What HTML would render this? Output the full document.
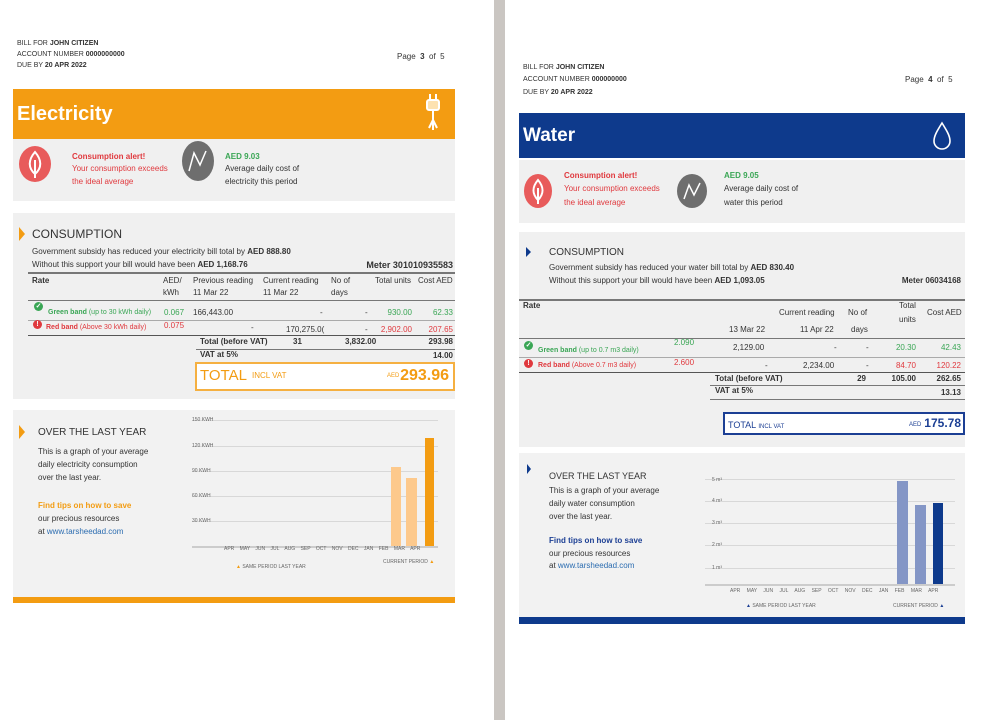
<!DOCTYPE html>
<html><head><meta charset="utf-8"><style>
body{margin:0;width:1000px;height:720px;position:relative;background:#fff;font-family:"Liberation Sans",sans-serif;overflow:hidden;color:#333}
.a{position:absolute}
.t{position:absolute;white-space:nowrap;font-size:8px;line-height:10px;transform:translateY(-5px)}
.r{transform:translate(-100%,-5px)}
.b{font-weight:bold}
.g{color:#3aa655}.rd{color:#e0393e}.o{color:#f39c12}.bl{color:#1c3f94}
.hl{position:absolute;height:1px;background:#777}
.grid{position:absolute;height:1px;background:#d8d8d8}
.sm{font-size:5px;line-height:6px;color:#666}
.ic{position:absolute;width:9px;height:9px;border-radius:50%;color:#fff;font-size:7px;line-height:9px;text-align:center;font-weight:bold}
</style></head><body>
<div class="a" style="left:494px;top:0;width:11px;height:720px;background:#cac6c2"></div>

<!-- LEFT PAGE -->
<div class="t" style="left:17px;top:44px;font-size:7px">BILL FOR <b>JOHN CITIZEN</b></div>
<div class="t" style="left:17px;top:55px;font-size:7px">ACCOUNT NUMBER <b>0000000000</b></div>
<div class="t" style="left:17px;top:66px;font-size:7px">DUE BY <b>20 APR 2022</b></div>
<div class="t" style="left:397px;top:57px;font-size:8px">Page &nbsp;<b>3</b>&nbsp; of &nbsp;5</div>

<div class="a" style="left:13px;top:89px;width:442px;height:50px;background:#f39c12"></div>
<div class="t b" style="left:17px;top:114px;font-size:20px;line-height:24px;transform:translateY(-12px);color:#fff">Electricity</div>
<svg class="a" style="left:424px;top:92px" width="18" height="42"><g stroke="#fff" stroke-width="2" fill="none"><path d="M6 2v6M12 2v6"/><rect x="3" y="8" width="12" height="10" rx="2" fill="#fde2b0"/><path d="M9 18v10M9 28l-4 8M9 28l4 8M9 28v10"/></g></svg>

<div class="a" style="left:13px;top:139px;width:442px;height:62px;background:#f0f0f0"></div>
<div class="a" style="left:19px;top:146px;width:32px;height:36px;border-radius:50%;background:#e85b5b"></div>
<svg class="a" style="left:25px;top:150px" width="20" height="28"><path d="M10 2C3 10 3 18 10 24C17 18 17 10 10 2ZM10 10V28" stroke="#fff" stroke-width="2" fill="none"/></svg>
<div class="t b rd" style="left:72px;top:157px">Consumption alert!</div>
<div class="t rd" style="left:72px;top:169px">Your consumption exceeds</div>
<div class="t rd" style="left:72px;top:182px">the ideal average</div>
<div class="a" style="left:182px;top:141px;width:32px;height:40px;border-radius:50%;background:#6e6e6e"></div>
<svg class="a" style="left:186px;top:147px" width="24" height="28"><path d="M3 24L8 6L14 18L20 4" stroke="#fff" stroke-width="1.5" fill="none"/></svg>
<div class="t b g" style="left:225px;top:157px">AED 9.03</div>
<div class="t" style="left:225px;top:169px">Average daily cost of</div>
<div class="t" style="left:225px;top:182px">electricity this period</div>

<div class="a" style="left:13px;top:213px;width:442px;height:186px;background:#f0f0f0"></div>
<div class="a" style="left:19px;top:227px;width:0;height:0;border-left:6px solid #f39c12;border-top:7px solid transparent;border-bottom:7px solid transparent"></div>
<div class="t" style="left:32px;top:234px;font-size:12px;line-height:14px;transform:translateY(-7px)">CONSUMPTION</div>
<div class="t" style="left:32px;top:252px">Government subsidy has reduced your electricity bill total by <b>AED 888.80</b></div>
<div class="t" style="left:32px;top:265px">Without this support your bill would have been <b>AED 1,168.76</b></div>
<div class="t b r" style="left:453px;top:265px;font-size:9px">Meter 301010935583</div>
<div class="hl" style="left:28px;top:272px;width:427px;height:2px"></div>
<div class="t b" style="left:32px;top:281px">Rate</div>
<div class="t" style="left:163px;top:281px">AED/</div><div class="t" style="left:163px;top:293px">kWh</div>
<div class="t" style="left:193px;top:281px">Previous reading</div><div class="t" style="left:193px;top:293px">11 Mar 22</div>
<div class="t" style="left:263px;top:281px">Current reading</div><div class="t" style="left:263px;top:293px">11 Mar 22</div>
<div class="t" style="left:331px;top:281px">No of</div><div class="t" style="left:331px;top:293px">days</div>
<div class="t" style="left:375px;top:281px">Total units</div>
<div class="t" style="left:418px;top:281px">Cost AED</div>
<div class="hl" style="left:28px;top:300px;width:427px"></div>
<div class="ic" style="left:34px;top:302px;background:#3aa655">✓</div>
<div class="t g" style="left:48px;top:313px;font-size:7px"><b>Green band</b> (up to 30 kWh daily)</div>
<div class="t g" style="left:164px;top:313px">0.067</div>
<div class="t" style="left:193px;top:313px">166,443.00</div>
<div class="t" style="left:320px;top:313px">-</div><div class="t" style="left:365px;top:313px">-</div>
<div class="t g r" style="left:412px;top:313px">930.00</div><div class="t g r" style="left:453px;top:313px">62.33</div>
<div class="hl" style="left:28px;top:320px;width:427px;background:#aaa"></div>
<div class="ic" style="left:33px;top:320px;background:#e0393e">!</div>
<div class="t rd" style="left:46px;top:328px;font-size:7px"><b>Red band</b> (Above 30 kWh daily)</div>
<div class="t rd" style="left:164px;top:326px">0.075</div>
<div class="t" style="left:251px;top:328px">-</div>
<div class="t" style="left:286px;top:330px">170,275.0(</div>
<div class="t" style="left:365px;top:330px">-</div>
<div class="t rd r" style="left:412px;top:330px">2,902.00</div><div class="t rd r" style="left:453px;top:330px">207.65</div>
<div class="hl" style="left:28px;top:335px;width:427px;background:#555"></div>
<div class="t b" style="left:200px;top:342px">Total (before VAT)</div>
<div class="t b" style="left:293px;top:342px">31</div>
<div class="t b" style="left:345px;top:342px">3,832.00</div>
<div class="t b r" style="left:453px;top:342px">293.98</div>
<div class="hl" style="left:196px;top:349px;width:259px"></div>
<div class="t b" style="left:200px;top:355px">VAT at 5%</div>
<div class="t b r" style="left:453px;top:356px">14.00</div>
<div class="a" style="left:195px;top:362px;width:256px;height:25px;border:2px solid #f5b041;background:#fff"></div>
<div class="t o" style="left:200px;top:376px;font-size:15px;line-height:16px;transform:translateY(-8px)">TOTAL</div>
<div class="t o" style="left:252px;top:376px">INCL VAT</div>
<div class="t o" style="left:387px;top:376px;font-size:6px">AED</div>
<div class="t o b r" style="left:449px;top:376px;font-size:16px;line-height:16px;transform:translate(-100%,-8px)">293.96</div>

<div class="a" style="left:13px;top:410px;width:442px;height:187px;background:#f2f2f2"></div>
<div class="a" style="left:19px;top:425px;width:0;height:0;border-left:6px solid #f39c12;border-top:7px solid transparent;border-bottom:7px solid transparent"></div>
<div class="t" style="left:38px;top:433px;font-size:10px;line-height:12px;transform:translateY(-6px)">OVER THE LAST YEAR</div>
<div class="t" style="left:38px;top:452px">This is a graph of your average</div>
<div class="t" style="left:38px;top:465px">daily electricity consumption</div>
<div class="t" style="left:38px;top:478px">over the last year.</div>
<div class="t b o" style="left:38px;top:506px">Find tips on how to save</div>
<div class="t" style="left:38px;top:519px">our precious resources</div>
<div class="t" style="left:38px;top:532px">at <span style="color:#2b6cb0">www.tarsheedad.com</span></div>
<div class="grid" style="left:192px;top:420px;width:246px"></div>
<div class="grid" style="left:192px;top:446px;width:246px"></div>
<div class="grid" style="left:192px;top:471px;width:246px"></div>
<div class="grid" style="left:192px;top:496px;width:246px"></div>
<div class="grid" style="left:192px;top:521px;width:246px"></div>
<div class="grid" style="left:192px;top:546px;width:246px;background:#ccc;height:2px"></div>
<div class="t sm" style="left:192px;top:417px;transform:none">150 KWH</div>
<div class="t sm" style="left:192px;top:443px;transform:none">120 KWH</div>
<div class="t sm" style="left:192px;top:468px;transform:none">90 KWH</div>
<div class="t sm" style="left:192px;top:493px;transform:none">60 KWH</div>
<div class="t sm" style="left:192px;top:518px;transform:none">30 KWH</div>
<div class="a" style="left:391px;top:467px;width:10px;height:79px;background:#fdc98c"></div>
<div class="a" style="left:406px;top:478px;width:11px;height:68px;background:#fdc98c"></div>
<div class="a" style="left:425px;top:438px;width:9px;height:108px;background:#f39c12"></div>
<div class="t sm" style="left:224px;top:546px;transform:none;word-spacing:4px">APR MAY JUN JUL AUG SEP OCT NOV DEC JAN FEB MAR APR</div>
<div class="t sm" style="left:236px;top:564px;transform:none"><span class="o">▲</span> SAME PERIOD LAST YEAR</div>
<div class="t sm" style="left:383px;top:559px;transform:none">CURRENT PERIOD <span class="o">▲</span></div>
<div class="a" style="left:13px;top:597px;width:442px;height:6px;background:#f39c12"></div>

<!-- RIGHT PAGE -->
<div class="t" style="left:523px;top:68px;font-size:7px">BILL FOR <b>JOHN CITIZEN</b></div>
<div class="t" style="left:523px;top:80px;font-size:7px">ACCOUNT NUMBER <b>000000000</b></div>
<div class="t" style="left:523px;top:93px;font-size:7px">DUE BY <b>20 APR 2022</b></div>
<div class="t" style="left:905px;top:80px;font-size:8px">Page &nbsp;<b>4</b>&nbsp; of &nbsp;5</div>

<div class="a" style="left:519px;top:113px;width:446px;height:45px;background:#0e3a8c"></div>
<div class="t b" style="left:523px;top:136px;font-size:19px;line-height:22px;transform:translateY(-11px);color:#fff">Water</div>
<svg class="a" style="left:931px;top:121px" width="22" height="30"><path d="M11 2C6 10 3 15 3 20a8 8 0 0 0 16 0C19 15 16 10 11 2Z" stroke="#fff" stroke-width="1.6" fill="none"/></svg>

<div class="a" style="left:519px;top:160px;width:446px;height:63px;background:#f0f0f0"></div>
<div class="a" style="left:524px;top:174px;width:28px;height:34px;border-radius:50%;background:#e85b5b"></div>
<svg class="a" style="left:529px;top:178px" width="18" height="26"><path d="M9 2C3 9 3 16 9 22C15 16 15 9 9 2ZM9 10V26" stroke="#fff" stroke-width="2" fill="none"/></svg>
<div class="t b rd" style="left:564px;top:176px">Consumption alert!</div>
<div class="t rd" style="left:564px;top:189px">Your consumption exceeds</div>
<div class="t rd" style="left:564px;top:203px">the ideal average</div>
<div class="a" style="left:677px;top:174px;width:30px;height:34px;border-radius:50%;background:#6e6e6e"></div>
<svg class="a" style="left:681px;top:179px" width="22" height="24"><path d="M3 20L8 6L13 16L19 4" stroke="#fff" stroke-width="1.5" fill="none"/></svg>
<div class="t b g" style="left:724px;top:176px">AED 9.05</div>
<div class="t" style="left:724px;top:189px">Average daily cost of</div>
<div class="t" style="left:724px;top:203px">water this period</div>

<div class="a" style="left:519px;top:232px;width:446px;height:215px;background:#f0f0f0"></div>
<div class="a" style="left:526px;top:247px;width:0;height:0;border-left:5px solid #0e3a8c;border-top:5px solid transparent;border-bottom:5px solid transparent"></div>
<div class="t" style="left:549px;top:253px;font-size:10px;line-height:12px;transform:translateY(-6px)">CONSUMPTION</div>
<div class="t" style="left:549px;top:268px">Government subsidy has reduced your water bill total by <b>AED 830.40</b></div>
<div class="t" style="left:549px;top:281px">Without this support your bill would have been <b>AED 1,093.05</b></div>
<div class="t b r" style="left:961px;top:281px">Meter 06034168</div>
<div class="hl" style="left:519px;top:299px;width:446px;height:2px"></div>
<div class="t b" style="left:523px;top:306px">Rate</div>
<div class="t" style="left:779px;top:313px">Current reading</div>
<div class="t" style="left:848px;top:313px">No of</div>
<div class="t" style="left:899px;top:306px">Total</div><div class="t" style="left:899px;top:320px">units</div>
<div class="t" style="left:927px;top:313px">Cost AED</div>
<div class="t" style="left:729px;top:330px">13 Mar 22</div>
<div class="t" style="left:800px;top:330px">11 Apr 22</div>
<div class="t" style="left:851px;top:330px">days</div>
<div class="hl" style="left:519px;top:338px;width:446px"></div>
<div class="ic" style="left:524px;top:341px;background:#3aa655">✓</div>
<div class="t g" style="left:538px;top:351px;font-size:7px"><b>Green band</b> (up to 0.7 m3 daily)</div>
<div class="t g" style="left:674px;top:343px">2.090</div>
<div class="t" style="left:733px;top:348px">2,129.00</div>
<div class="t" style="left:834px;top:348px">-</div><div class="t" style="left:866px;top:348px">-</div>
<div class="t g r" style="left:916px;top:348px">20.30</div><div class="t g r" style="left:961px;top:348px">42.43</div>
<div class="hl" style="left:519px;top:357px;width:446px;background:#aaa"></div>
<div class="ic" style="left:524px;top:359px;background:#e0393e">!</div>
<div class="t rd" style="left:538px;top:366px;font-size:7px"><b>Red band</b> (Above 0.7 m3 daily)</div>
<div class="t rd" style="left:674px;top:363px">2.600</div>
<div class="t" style="left:765px;top:366px">-</div>
<div class="t" style="left:803px;top:366px">2,234.00</div>
<div class="t" style="left:866px;top:366px">-</div>
<div class="t rd r" style="left:916px;top:366px">84.70</div><div class="t rd r" style="left:961px;top:366px">120.22</div>
<div class="hl" style="left:519px;top:372px;width:446px;background:#555"></div>
<div class="t b" style="left:715px;top:379px">Total (before VAT)</div>
<div class="t b r" style="left:866px;top:379px">29</div>
<div class="t b r" style="left:916px;top:379px">105.00</div>
<div class="t b r" style="left:961px;top:379px">262.65</div>
<div class="hl" style="left:710px;top:385px;width:255px"></div>
<div class="t b" style="left:715px;top:391px">VAT at 5%</div>
<div class="t b r" style="left:961px;top:393px">13.13</div>
<div class="hl" style="left:710px;top:399px;width:255px"></div>
<div class="a" style="left:723px;top:412px;width:238px;height:19px;border:2px solid #1c3f94;background:#fff"></div>
<div class="t bl" style="left:728px;top:425px;font-size:9px">TOTAL <span style="font-size:6px">INCL VAT</span></div>
<div class="t bl" style="left:909px;top:425px;font-size:6px">AED</div>
<div class="t bl b r" style="left:961px;top:423px;font-size:12px;line-height:14px;transform:translate(-100%,-7px)">175.78</div>

<div class="a" style="left:519px;top:453px;width:446px;height:164px;background:#f2f2f2"></div>
<div class="a" style="left:527px;top:464px;width:0;height:0;border-left:4px solid #0e3a8c;border-top:5px solid transparent;border-bottom:5px solid transparent"></div>
<div class="t" style="left:549px;top:476px;font-size:9px">OVER THE LAST YEAR</div>
<div class="t" style="left:549px;top:491px">This is a graph of your average</div>
<div class="t" style="left:549px;top:504px">daily water consumption</div>
<div class="t" style="left:549px;top:517px">over the last year.</div>
<div class="t b bl" style="left:549px;top:541px">Find tips on how to save</div>
<div class="t" style="left:549px;top:554px">our precious resources</div>
<div class="t" style="left:549px;top:566px">at <span style="color:#2b6cb0">www.tarsheedad.com</span></div>
<div class="grid" style="left:705px;top:479px;width:250px"></div>
<div class="grid" style="left:705px;top:501px;width:250px"></div>
<div class="grid" style="left:705px;top:523px;width:250px"></div>
<div class="grid" style="left:705px;top:545px;width:250px"></div>
<div class="grid" style="left:705px;top:568px;width:250px"></div>
<div class="grid" style="left:705px;top:584px;width:250px;background:#ccc;height:2px"></div>
<div class="t sm" style="left:712px;top:477px;transform:none">5 m³</div>
<div class="t sm" style="left:712px;top:498px;transform:none">4 m³</div>
<div class="t sm" style="left:712px;top:520px;transform:none">3 m³</div>
<div class="t sm" style="left:712px;top:542px;transform:none">2 m³</div>
<div class="t sm" style="left:712px;top:565px;transform:none">1 m³</div>
<div class="a" style="left:897px;top:481px;width:11px;height:103px;background:#8496c6"></div>
<div class="a" style="left:915px;top:505px;width:11px;height:79px;background:#8496c6"></div>
<div class="a" style="left:933px;top:503px;width:10px;height:81px;background:#0e3a8c"></div>
<div class="t sm" style="left:730px;top:588px;transform:none;word-spacing:5px">APR MAY JUN JUL AUG SEP OCT NOV DEC JAN FEB MAR APR</div>
<div class="t sm" style="left:746px;top:603px;transform:none"><span class="bl">▲</span> SAME PERIOD LAST YEAR</div>
<div class="t sm" style="left:893px;top:603px;transform:none">CURRENT PERIOD <span class="bl">▲</span></div>
<div class="a" style="left:519px;top:617px;width:446px;height:7px;background:#0e3a8c"></div>
</body></html>
